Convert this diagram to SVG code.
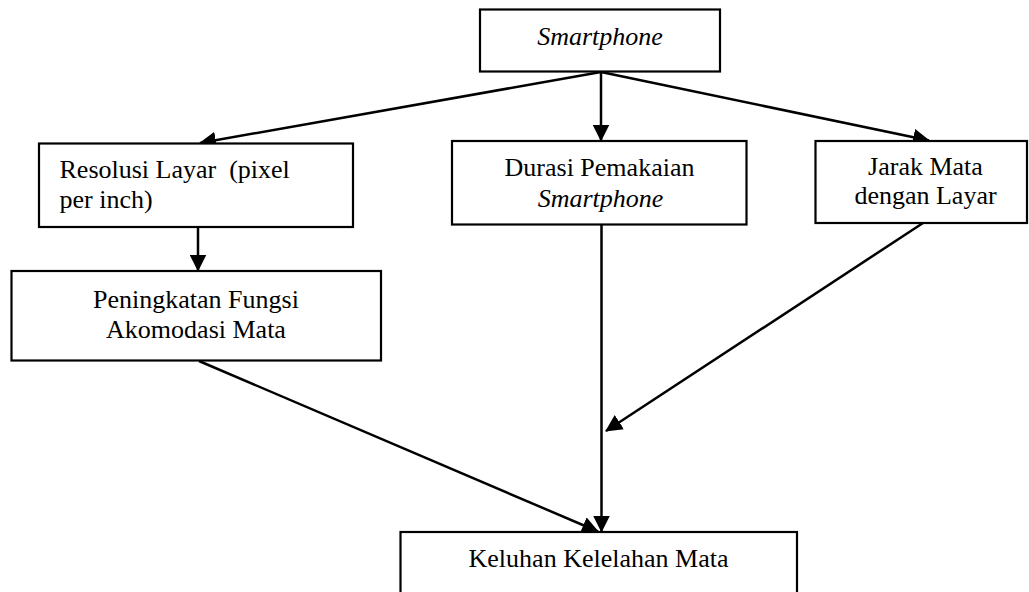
<svg xmlns="http://www.w3.org/2000/svg" width="1029" height="592" viewBox="0 0 1029 592">
<style>
.box{fill:#fff;stroke:#000;stroke-width:2.2}
.t{font-family:"Liberation Serif","Times New Roman",serif;font-size:26px;fill:#000}
.c{text-anchor:middle}
.i{font-style:italic}
.ln{fill:none;stroke:#000;stroke-width:2.5;marker-end:url(#ah)}
</style>
<defs>
<marker id="ah" markerUnits="userSpaceOnUse" viewBox="0 0 17 17" markerWidth="17" markerHeight="17" refX="16" refY="8.5" orient="auto">
<path d="M0,0 L17,8.5 L0,17 z" fill="#000"/>
</marker>
</defs>
<rect x="0" y="0" width="1029" height="592" fill="#fff"/>
<g id="connectors">
<line class="ln" x1="601" y1="72" x2="200" y2="143"/>
<line class="ln" x1="601" y1="72" x2="601" y2="140.5"/>
<line class="ln" x1="601" y1="72" x2="929" y2="140.5"/>
<line class="ln" x1="198" y1="227" x2="198" y2="270.5"/>
<line class="ln" x1="199" y1="361" x2="598" y2="531.5"/>
<line class="ln" x1="601.5" y1="224.5" x2="601.5" y2="531.5"/>
<line class="ln" x1="923" y1="223" x2="606" y2="431"/>
</g>
<g id="smartphone">
<rect class="box" x="480" y="9.5" width="240" height="62"/>
<text class="t c i" x="600" y="45">Smartphone</text>
</g>
<g id="resolusi">
<rect class="box" x="39" y="143.5" width="314" height="83.5"/>
<text class="t" x="59.5" y="178" style="white-space:pre">Resolusi Layar  (pixel</text>
<text class="t" x="59.5" y="208">per inch)</text>
</g>
<g id="durasi">
<rect class="box" x="452" y="141" width="294.5" height="83.5"/>
<text class="t c" x="599.5" y="176">Durasi Pemakaian</text>
<text class="t c i" x="600.5" y="206.5">Smartphone</text>
</g>
<g id="jarak">
<rect class="box" x="815.5" y="141" width="211.5" height="82"/>
<text class="t c" x="925.5" y="174.5">Jarak Mata</text>
<text class="t c" x="925.5" y="204">dengan Layar</text>
</g>
<g id="peningkatan">
<rect class="box" x="11.5" y="271" width="369.5" height="89.5"/>
<text class="t c" x="196" y="307.5">Peningkatan Fungsi</text>
<text class="t c" x="196" y="338">Akomodasi Mata</text>
</g>
<g id="keluhan">
<rect class="box" x="400.5" y="532" width="396.5" height="80"/>
<text class="t c" x="598.5" y="566.5">Keluhan Kelelahan Mata</text>
</g>
</svg>
